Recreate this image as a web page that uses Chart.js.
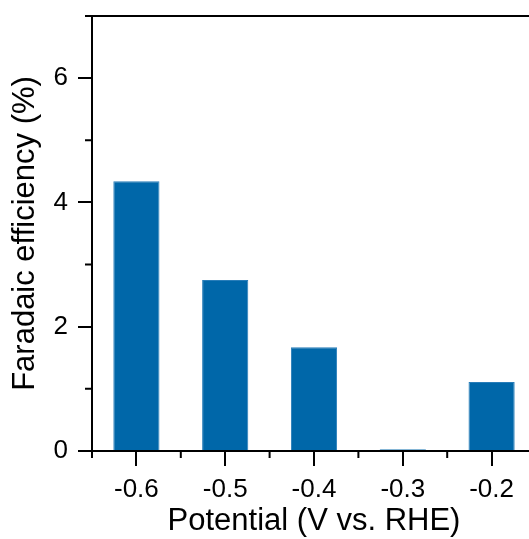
<!DOCTYPE html>
<html lang="en">
<head>
  <meta charset="UTF-8">
  <title>Faradaic efficiency</title>
  <script src="https://cdn.jsdelivr.net/npm/chart.js"></script>
  <style>
    html, body { margin: 0; padding: 0; background: #fff; overflow: hidden; }
    #wrap { width: 529px; height: 539px; overflow: hidden; }
    canvas { display: block; }
  </style>
</head>
<body>

<div id="wrap"><canvas id="feChart" width="540" height="539"></canvas></div>

<script>
  // potentials (V vs. RHE) and faradaic efficiency (%)
  const potentials = ['-0.6', '-0.5', '-0.4', '-0.3', '-0.2'];
  const efficiency = [4.34, 2.75, 1.67, 0.03, 1.11];
  const yMajorTicks = [0, 2, 4, 6];
  const yMinorTicks = [1, 3, 5, 7];
  const yMax = 7;

  const font = "'Liberation Sans', Arial, sans-serif";

  // origin-style frame: top/right lines and short minor ticks
  const frameTicks = {
    id: 'frameTicks',
    afterDraw(chart) {
      const { ctx, chartArea: a, scales: { x, y } } = chart;
      ctx.save();
      ctx.strokeStyle = '#000';
      ctx.lineWidth = 2;
      ctx.beginPath();
      ctx.moveTo(a.left, a.top);
      ctx.lineTo(a.right, a.top);
      ctx.lineTo(a.right, a.bottom);
      yMinorTicks.forEach(v => {
        const py = y.getPixelForValue(v);
        ctx.moveTo(a.left - 7, py);
        ctx.lineTo(a.left, py);
      });
      for (let i = 0; i <= potentials.length; i++) {
        const px = x.getPixelForValue(i - 0.5);
        ctx.moveTo(px, a.bottom);
        ctx.lineTo(px, a.bottom + 7);
      }
      ctx.stroke();
      ctx.restore();
    }
  };

  new Chart(document.getElementById('feChart'), {
    type: 'bar',
    data: {
      labels: potentials,
      datasets: [{
        data: efficiency,
        backgroundColor: 'rgb(0,103,169)',
        borderColor: 'rgb(40,125,185)',
        borderWidth: 1,
        barPercentage: 0.52,
        categoryPercentage: 1
      }]
    },
    options: {
      responsive: false,
      animation: false,
      layout: { padding: { top: 16, right: 4, left: 0, bottom: 0 } },
      plugins: { legend: { display: false }, tooltip: { enabled: false } },
      scales: {
        x: {
          offset: true,
          afterFit: s => { s.height = 88; s.paddingLeft = 0; s.paddingRight = 0; },
          border: { color: '#000', width: 2 },
          grid: { offset: false, drawOnChartArea: false, color: '#000', lineWidth: 2, tickLength: 15 },
          ticks: { color: '#000', padding: 8, maxRotation: 0, font: { family: font, size: 26 } },
          title: {
            display: true, text: 'Potential (V vs. RHE)', color: '#000',
            font: { family: font, size: 31, lineHeight: 1.1 }, padding: { top: 0, bottom: 0 }
          }
        },
        y: {
          min: 0, max: yMax,
          afterFit: s => { s.width = 92; s.paddingTop = 0; s.paddingBottom = 0; },
          border: { color: '#000', width: 2 },
          grid: { drawOnChartArea: false, color: '#000', lineWidth: 2, tickLength: 14 },
          ticks: {
            stepSize: 1, color: '#000', padding: 10,
            font: { family: font, size: 26 },
            callback: v => yMajorTicks.includes(v) ? String(v) : null
          },
          title: {
            display: true, text: 'Faradaic efficiency (%)', color: '#000',
            font: { family: font, size: 31, lineHeight: 1.2 }, padding: { top: 7, bottom: 0 }
          }
        }
      }
    },
    plugins: [frameTicks]
  });
</script>

</body>
</html>
